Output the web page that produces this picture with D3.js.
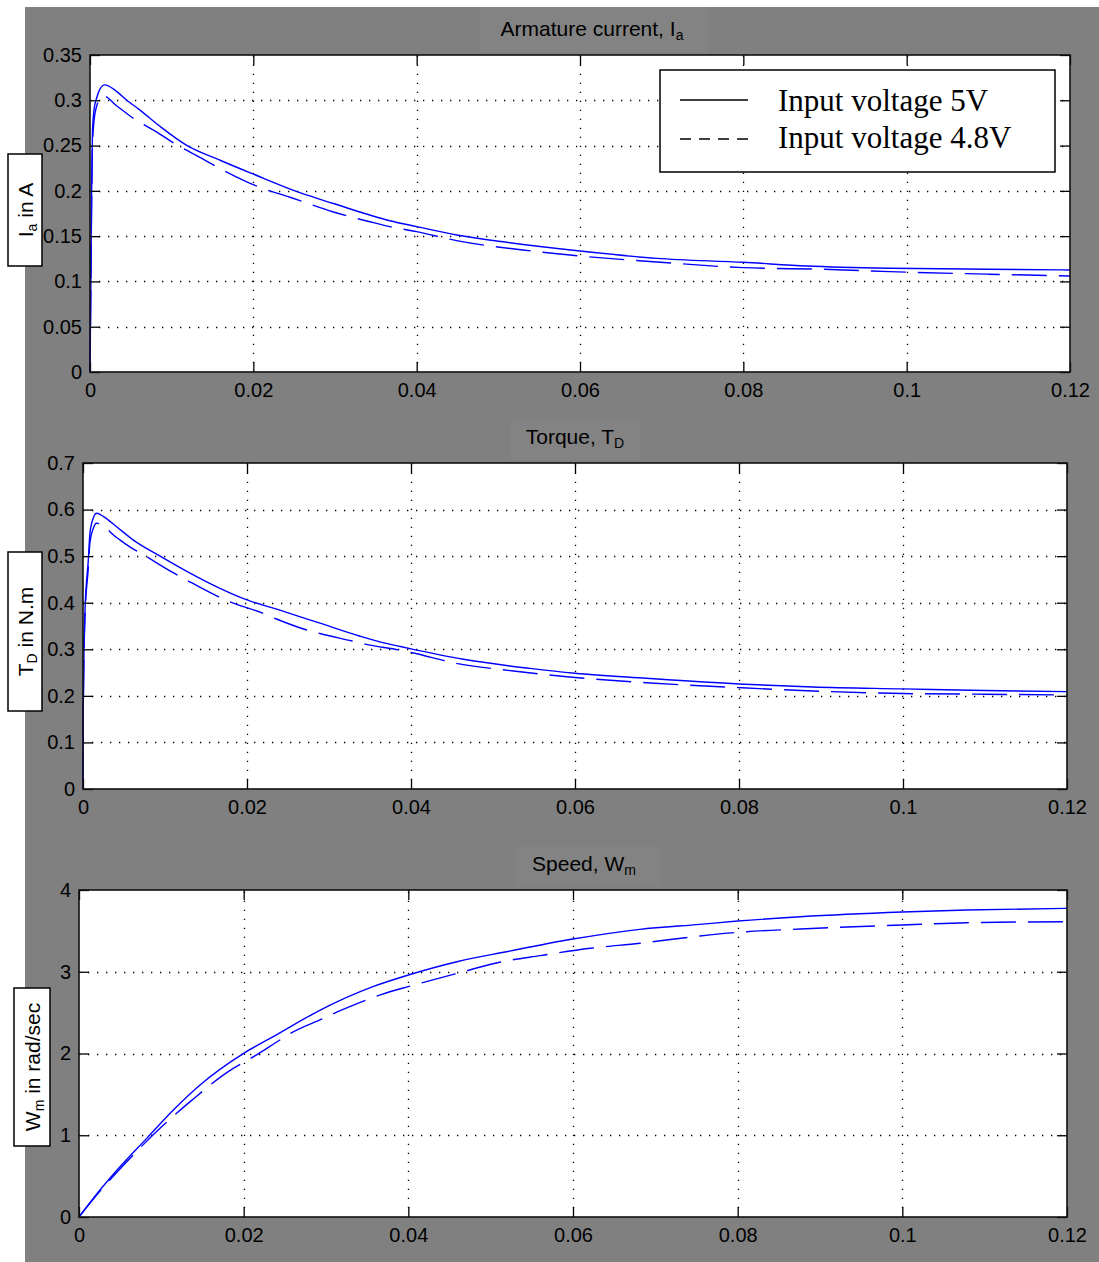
<!DOCTYPE html>
<html>
<head>
<meta charset="utf-8">
<script src="https://cdn.jsdelivr.net/npm/d3@7"></script>
<style>
  body { margin: 0; background: #fff; }
  svg { display: block; }
</style>
</head>
<body>
<div id="chart"></div>
<script>
// time axis ticks shared by all three panels
const xTicks = [0, 0.02, 0.04, 0.06, 0.08, 0.1, 0.12];
const iaTicks = [0, 0.05, 0.1, 0.15, 0.2, 0.25, 0.3, 0.35];
const tdTicks = [0, 0.1, 0.2, 0.3, 0.4, 0.5, 0.6, 0.7];
const wmTicks = [0, 1, 2, 3, 4];

// armature current
const tIa5 = [0, 0.0001, 0.0002, 0.0003, 0.0005, 0.0008, 0.0012, 0.0018, 0.0031, 0.0045, 0.006, 0.0086, 0.0118, 0.016, 0.02, 0.0257, 0.0298, 0.0367, 0.04, 0.0449, 0.051, 0.06, 0.0694, 0.08, 0.0878, 0.098, 0.11, 0.12];
const ia5 = [0, 0.095, 0.2, 0.265, 0.29, 0.302, 0.312, 0.317, 0.311, 0.300, 0.290, 0.271, 0.2505, 0.2335, 0.2185, 0.198, 0.186, 0.167, 0.1605, 0.1513, 0.1432, 0.1336, 0.1255, 0.1211, 0.117, 0.1145, 0.1135, 0.1126];
const tIa48 = [0, 0.0001, 0.0002, 0.0003, 0.0005, 0.0008, 0.0012, 0.0016, 0.0033, 0.0049, 0.0086, 0.0103, 0.0139, 0.0155, 0.0192, 0.0208, 0.0245, 0.0298, 0.0347, 0.0367, 0.04, 0.0449, 0.053, 0.06, 0.0694, 0.08, 0.0898, 0.098, 0.11, 0.12];
const ia48 = [0, 0.09, 0.19, 0.25, 0.278, 0.293, 0.302, 0.305, 0.2937, 0.2827, 0.2624, 0.2525, 0.2348, 0.2267, 0.210, 0.2039, 0.1929, 0.1767, 0.1649, 0.1605, 0.155, 0.145, 0.1347, 0.128, 0.1215, 0.1152, 0.1134, 0.1108, 0.108, 0.106];

// developed torque
const tTd5 = [0, 0.00004, 0.00024, 0.00065, 0.00085, 0.00126, 0.00167, 0.0025, 0.0041, 0.0061, 0.0094, 0.0126, 0.0167, 0.02, 0.024, 0.0289, 0.0338, 0.0362, 0.0387, 0.04, 0.0464, 0.0545, 0.06, 0.0687, 0.08, 0.089, 0.1, 0.11, 0.12];
const td5 = [0, 0.185, 0.381, 0.492, 0.55, 0.582, 0.592, 0.585, 0.563, 0.535, 0.500, 0.468, 0.431, 0.406, 0.384, 0.356, 0.328, 0.316, 0.306, 0.301, 0.2785, 0.259, 0.2484, 0.2377, 0.2255, 0.219, 0.215, 0.2115, 0.209];
const tTd48 = [0, 0.00004, 0.00024, 0.00065, 0.00085, 0.00126, 0.00167, 0.0041, 0.0057, 0.0074, 0.011, 0.0126, 0.0165, 0.0179, 0.022, 0.0236, 0.0273, 0.0289, 0.0328, 0.0344, 0.0387, 0.0403, 0.0455, 0.0525, 0.059, 0.0687, 0.08, 0.089, 0.1, 0.11, 0.12];
const td48 = [0, 0.18, 0.37, 0.475, 0.53, 0.56, 0.5705, 0.54, 0.520, 0.5025, 0.4645, 0.449, 0.413, 0.402, 0.377, 0.365, 0.3414, 0.334, 0.3178, 0.311, 0.298, 0.292, 0.2698, 0.2534, 0.241, 0.2283, 0.2176, 0.2104, 0.205, 0.2035, 0.2018];

// motor speed
const tWm5 = [0, 0.00255, 0.00498, 0.00822, 0.01146, 0.0147, 0.02, 0.0236, 0.0293, 0.0357, 0.04, 0.0459, 0.0519, 0.06, 0.0681, 0.0754, 0.08, 0.0876, 0.1, 0.1078, 0.12];
const wm5 = [0, 0.33, 0.615, 0.962, 1.309, 1.615, 2.002, 2.206, 2.532, 2.818, 2.96, 3.123, 3.245, 3.40, 3.519, 3.58, 3.62, 3.673, 3.731, 3.755, 3.776];
const tWm48 = [0, 0.0025, 0.005, 0.00984, 0.0135, 0.01874, 0.0204, 0.0244, 0.0256, 0.0297, 0.0313, 0.0349, 0.0366, 0.0404, 0.0459, 0.0511, 0.056, 0.0621, 0.0681, 0.0754, 0.08, 0.0876, 0.1, 0.1078, 0.12];
const wm48 = [0, 0.31, 0.59, 1.085, 1.411, 1.819, 1.913, 2.165, 2.241, 2.43, 2.505, 2.654, 2.718, 2.83, 2.98, 3.116, 3.197, 3.287, 3.348, 3.437, 3.482, 3.523, 3.572, 3.6, 3.612];

const legendLabels = ["Input voltage 5V", "Input voltage 4.8V"];

const W = 1099, H = 1262;
const svg = d3.select("#chart").append("svg")
  .attr("width", W)
  .attr("height", H);

svg.append("rect")
  .attr("x", 25).attr("y", 7)
  .attr("width", W - 25).attr("height", H - 7)
  .attr("fill", "#808080");

const fmt = d => String(+d.toFixed(4));
const zip = (xs, ys) => xs.map((t, i) => [t, ys[i]]);

// text with one subscript: [main, sub, rest]
function subText(sel, parts, subSize) {
  sel.append("tspan").text(parts[0]);
  sel.append("tspan").attr("dy", 4).attr("font-size", subSize).text(parts[1]);
  if (parts[2]) sel.append("tspan").attr("dy", -4).text(parts[2]);
}

function drawPanel(p) {
  const x = d3.scaleLinear().domain([0, 0.12]).range([p.left, p.right]);
  const y = d3.scaleLinear().domain([0, p.ticks[p.ticks.length - 1]]).range([p.bottom, p.top]);
  const g = svg.append("g");

  // title
  g.append("rect")
    .attr("x", p.titleBox[0]).attr("y", p.titleBox[1])
    .attr("width", p.titleBox[2]).attr("height", p.titleBox[3])
    .attr("fill", "#838383");
  const title = g.append("text")
    .attr("x", p.titleX).attr("y", p.top - 19)
    .attr("text-anchor", "middle")
    .attr("font-family", "Liberation Sans, Arial, sans-serif")
    .attr("font-size", 21)
    .attr("fill", "#000");
  subText(title, p.title, 14);

  // ylabel box
  g.append("rect")
    .attr("x", p.labelBox[0]).attr("y", p.labelBox[1])
    .attr("width", p.labelBox[2]).attr("height", p.labelBox[3])
    .attr("fill", "#fff").attr("stroke", "#000").attr("stroke-width", 1.5);
  const cx = p.labelBox[0] + p.labelBox[2] / 2 + 7.5;
  const cy = p.labelBox[1] + p.labelBox[3] / 2;
  const ylab = g.append("text")
    .attr("transform", `translate(${cx},${cy}) rotate(-90)`)
    .attr("text-anchor", "middle")
    .attr("font-family", "Liberation Sans, Arial, sans-serif")
    .attr("font-size", 21)
    .attr("fill", "#000");
  subText(ylab, p.ylabel, 14);

  // plot area
  g.append("rect")
    .attr("x", p.left).attr("y", p.top)
    .attr("width", p.right - p.left).attr("height", p.bottom - p.top)
    .attr("fill", "#fff");

  // dotted grid
  const grid = g.append("g")
    .attr("stroke", "#000")
    .attr("stroke-width", 1.3)
    .attr("stroke-dasharray", "1.3,7.7");
  grid.selectAll(".gx").data(xTicks.slice(1, -1)).join("line")
    .attr("x1", d => Math.round(x(d)) + 0.5).attr("x2", d => Math.round(x(d)) + 0.5)
    .attr("y1", p.bottom).attr("y2", p.top);
  grid.selectAll(".gy").data(p.ticks.slice(1, -1)).join("line")
    .attr("y1", d => Math.round(y(d)) + 0.5).attr("y2", d => Math.round(y(d)) + 0.5)
    .attr("x1", p.left).attr("x2", p.right);

  // curves
  const line = d3.line()
    .x(d => x(d[0]))
    .y(d => y(d[1]))
    .curve(d3.curveMonotoneX);
  g.append("path")
    .datum(zip(p.t48, p.v48))
    .attr("d", line)
    .attr("fill", "none")
    .attr("stroke", "#0000ff")
    .attr("stroke-width", 1.4)
    .attr("stroke-dasharray", "35,12");
  g.append("path")
    .datum(zip(p.t5, p.v5))
    .attr("d", line)
    .attr("fill", "none")
    .attr("stroke", "#0000ff")
    .attr("stroke-width", 1.4);

  // axes, ticks inward on all four sides
  const font = a => a
    .attr("font-family", "Liberation Sans, Arial, sans-serif")
    .attr("font-size", 20)
    .attr("color", "#000")
    .call(s => s.select(".domain").remove())
    .call(s => s.selectAll("line").attr("stroke-width", 1.3));
  g.append("g")
    .attr("transform", `translate(0,${p.bottom})`)
    .call(d3.axisBottom(x).tickValues(xTicks).tickSize(-10).tickSizeOuter(0).tickPadding(11).tickFormat(fmt))
    .call(font);
  g.append("g")
    .attr("transform", `translate(0,${p.top})`)
    .call(d3.axisTop(x).tickValues(xTicks).tickSize(-10).tickSizeOuter(0).tickFormat(""))
    .call(font);
  g.append("g")
    .attr("transform", `translate(${p.left},0)`)
    .call(d3.axisLeft(y).tickValues(p.ticks).tickSize(-10).tickSizeOuter(0).tickPadding(8).tickFormat(fmt))
    .call(font);
  g.append("g")
    .attr("transform", `translate(${p.right},0)`)
    .call(d3.axisRight(y).tickValues(p.ticks).tickSize(-10).tickSizeOuter(0).tickFormat(""))
    .call(font);

  g.append("rect")
    .attr("x", p.left).attr("y", p.top)
    .attr("width", p.right - p.left).attr("height", p.bottom - p.top)
    .attr("fill", "none").attr("stroke", "#111").attr("stroke-width", 1.6);

  return g;
}

const g1 = drawPanel({
  left: 90, right: 1070, top: 55, bottom: 372,
  ticks: iaTicks, t5: tIa5, v5: ia5, t48: tIa48, v48: ia48,
  title: ["Armature current, I", "a"], titleX: 592, titleBox: [480, 7, 227, 45],
  ylabel: ["I", "a", " in A"], labelBox: [8, 154, 34, 112]
});

drawPanel({
  left: 83, right: 1067, top: 463, bottom: 789,
  ticks: tdTicks, t5: tTd5, v5: td5, t48: tTd48, v48: td48,
  title: ["Torque, T", "D"], titleX: 575, titleBox: [510, 420, 130, 40],
  ylabel: ["T", "D", " in N.m"], labelBox: [8, 552, 34, 159]
});

drawPanel({
  left: 79, right: 1067, top: 890, bottom: 1217,
  ticks: wmTicks, t5: tWm5, v5: wm5, t48: tWm48, v48: wm48,
  title: ["Speed, W", "m"], titleX: 584, titleBox: [515, 846, 145, 40],
  ylabel: ["W", "m", " in rad/sec"], labelBox: [14, 988, 36, 158]
});

// legend in the first panel
const leg = g1.append("g");
leg.append("rect")
  .attr("x", 660).attr("y", 70).attr("width", 395).attr("height", 102)
  .attr("fill", "#fff").attr("stroke", "#000").attr("stroke-width", 1.5);
leg.selectAll("line").data(legendLabels).join("line")
  .attr("x1", 680).attr("x2", 748)
  .attr("y1", (d, i) => 100 + i * 39).attr("y2", (d, i) => 100 + i * 39)
  .attr("stroke", "#000").attr("stroke-width", 1.5)
  .attr("stroke-dasharray", (d, i) => i ? "11,8" : null);
leg.selectAll("text").data(legendLabels).join("text")
  .attr("x", 778).attr("y", (d, i) => 111 + i * 37)
  .attr("font-family", "Liberation Serif, Times New Roman, serif")
  .attr("font-size", 31)
  .attr("fill", "#000")
  .text(d => d);
</script>
</body>
</html>
